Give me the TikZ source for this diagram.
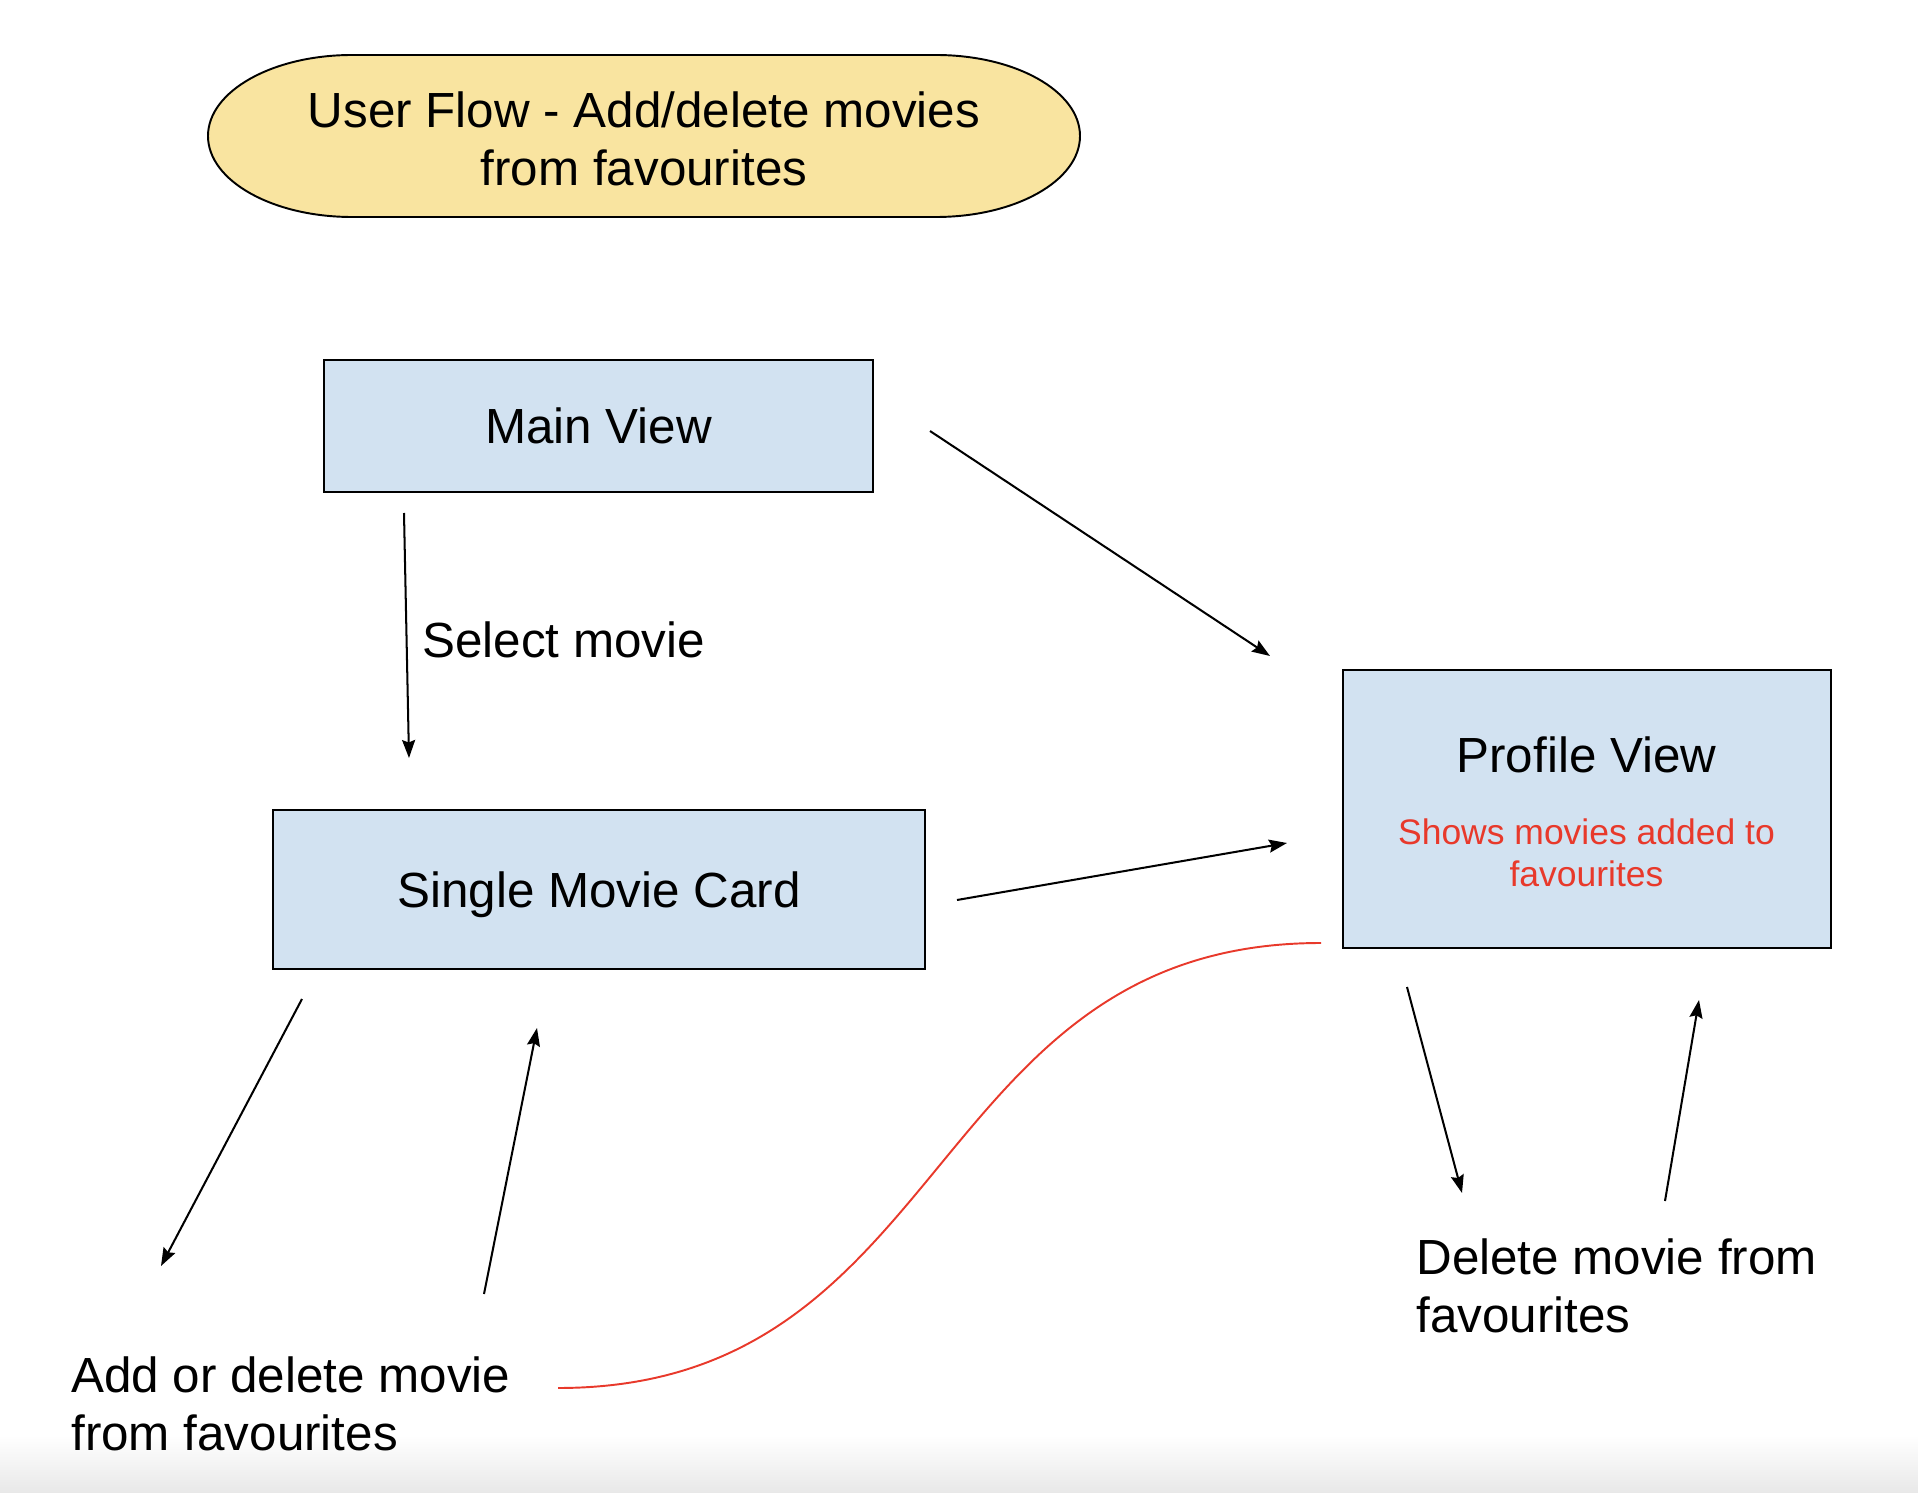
\documentclass[tikz,border=0pt]{standalone}
\usepackage{fontspec}
\setmainfont{Liberation Sans}
\usetikzlibrary{arrows.meta}
\definecolor{titleyellow}{HTML}{F9E4A0}
\definecolor{viewblue}{HTML}{D2E2F1}
\definecolor{noteRed}{HTML}{E8392B}
\newcommand\flowfont{\fontsize{28.1}{33}\selectfont}
\newcommand\notefont{\fontsize{20.2}{23.7}\selectfont}
\begin{document}
\begin{tikzpicture}[x=0.02cm, y=-0.02cm,
	viewbox/.style = {draw, line width=1.4pt, fill=viewblue, font=\flowfont, text depth=0pt},
	flowlabel/.style = {inner sep=0pt, font=\flowfont, align=left, text depth=0pt},
	flowarrow/.style = {-{Stealth[length=0.36cm, width=0.26cm, inset=0.05cm]}, line width=1.15pt}]
\useasboundingbox (0,0) rectangle (1918,1493);
\shade [top color=white, bottom color=black!9] (0,1435) rectangle (1918,1493);
%
\draw [line width=1.1pt, fill=titleyellow] (352,55) -- (936,55)
	arc [start angle=-90, end angle=90, x radius=144, y radius=81] -- (352,217)
	arc [start angle=90, end angle=270, x radius=144, y radius=81] -- cycle;
\node (title) [font=\flowfont, align=center, inner sep=0pt] at (644,139) {User Flow - Add/delete movies\\from favourites};
%
\node (main) [viewbox, minimum width=10.98cm, minimum height=2.64cm] at (598.5,426) {Main View};
\node (single) [viewbox, minimum width=13.04cm, minimum height=3.18cm] at (599,889.5) {Single Movie Card};
\node (profile) [viewbox, minimum width=9.76cm, minimum height=5.56cm] at (1587,809) {};
\node (profiletitle) [font=\flowfont, text depth=0pt, inner sep=0pt] at (1586.5,755) {Profile View};
\node (profilenote) [font=\notefont, text=noteRed, align=center, inner sep=0pt] at (1586.5,853) {Shows movies added to\\favourites};
%
\node (select) [flowlabel, anchor=west] at (422,640) {Select movie};
\node (addlabel) [flowlabel, anchor=west] at (71,1403.5) {Add or delete movie\\from favourites};
\node (deletelabel) [flowlabel, anchor=west] at (1416,1286) {Delete movie from\\favourites};
%
\coordinate (mainR) at (930,431);    \coordinate (profileTL) at (1270,656);
\coordinate (mainB) at (404,513);    \coordinate (singleT) at (409,758);
\coordinate (singleR) at (957,900);  \coordinate (profileL) at (1287,843);
\coordinate (singleB) at (302,999);  \coordinate (addT) at (161,1266);
\coordinate (addR) at (484,1294);    \coordinate (singleBR) at (537,1028);
\coordinate (profileB) at (1407,987);  \coordinate (deleteT) at (1462,1193);
\coordinate (deleteR) at (1665,1201);  \coordinate (profileBR) at (1699,1000);
\coordinate (addEnd) at (558,1388);  \coordinate (profileEnd) at (1321,943);
%
\draw [flowarrow] (mainR) -- (profileTL);
\draw [flowarrow] (mainB) -- (singleT);
\draw [flowarrow] (singleR) -- (profileL);
\draw [flowarrow] (singleB) -- (addT);
\draw [flowarrow] (addR) -- (singleBR);
\draw [flowarrow] (profileB) -- (deleteT);
\draw [flowarrow] (deleteR) -- (profileBR);
\draw [noteRed, line width=1.1pt] (addEnd) .. controls (955,1388) and (924,943) .. (profileEnd);
\end{tikzpicture}
\end{document}
